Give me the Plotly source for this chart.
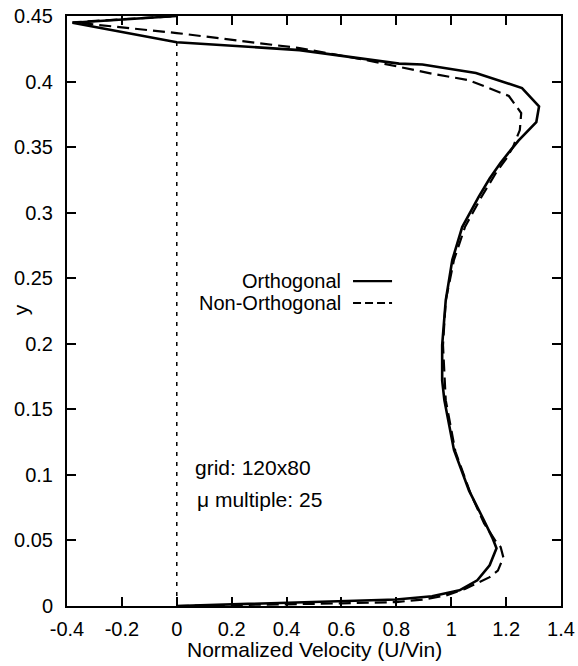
import plotly.graph_objects as go

# Velocity profiles across the channel (U/Vin versus y)
ortho_u = [0.0, 0.2, 0.4, 0.6, 0.8, 0.93, 1.03, 1.095, 1.14, 1.165, 1.15, 1.12,
           1.065, 1.01, 0.975, 0.967, 0.967, 0.98, 1.004, 1.04, 1.10, 1.14, 1.18,
           1.21, 1.245, 1.31, 1.32, 1.258, 1.09, 0.895, 0.81, 0.447, 0.2, 0.0,
           -0.38, 0.0]
ortho_y = [0.0, 0.0013, 0.0025, 0.0035, 0.005, 0.0075, 0.012, 0.0196, 0.031, 0.044,
           0.052, 0.065, 0.088, 0.119, 0.157, 0.172, 0.199, 0.233, 0.264, 0.289,
           0.312, 0.326, 0.338, 0.346, 0.355, 0.369, 0.381, 0.395, 0.4066, 0.413,
           0.4137, 0.424, 0.4275, 0.430, 0.4448, 0.45]

nonortho_u = [0.0, 0.2, 0.4, 0.6, 0.8, 0.9, 0.98, 1.05, 1.10, 1.14, 1.17, 1.19,
              1.18, 1.16, 1.12, 1.07, 1.015, 0.98, 0.97, 0.98, 1.01, 1.05, 1.11,
              1.165, 1.20, 1.225, 1.25, 1.255, 1.21, 1.065, 0.93, 0.7, 0.447, 0.2,
              0.0, -0.38, 0.0]
nonortho_y = [0.0, 0.0005, 0.001, 0.002, 0.003, 0.005, 0.008, 0.013, 0.018, 0.022,
              0.027, 0.037, 0.045, 0.050, 0.063, 0.086, 0.118, 0.157, 0.199, 0.233,
              0.264, 0.289, 0.312, 0.331, 0.341, 0.35, 0.363, 0.376, 0.389, 0.401,
              0.406, 0.416, 0.4255, 0.432, 0.437, 0.4452, 0.45]

x_ticks = [-0.4, -0.2, 0, 0.2, 0.4, 0.6, 0.8, 1, 1.2, 1.4]
y_ticks = [0, 0.05, 0.1, 0.15, 0.2, 0.25, 0.3, 0.35, 0.4, 0.45]

FONT = "Liberation Sans, Arial, Helvetica, sans-serif"
TICK_FS = 20
TEXT_FS = 21
KEY_FS = 20

fig = go.Figure()

# zero-velocity reference line
fig.add_trace(go.Scatter(x=[0, 0], y=[0, 0.43], mode="lines",
                         line=dict(color="black", width=1.5, dash="4px,6px"),
                         showlegend=False, hoverinfo="skip"))

fig.add_trace(go.Scatter(x=ortho_u, y=ortho_y, mode="lines", name="Orthogonal",
                         line=dict(color="black", width=2.6), showlegend=False))
fig.add_trace(go.Scatter(x=nonortho_u, y=nonortho_y, mode="lines", name="Non-Orthogonal",
                         line=dict(color="black", width=2.2, dash="12px,6px"),
                         showlegend=False))

axis_common = dict(
    showline=True, linecolor="black", linewidth=2, mirror="ticks",
    ticks="inside", ticklen=9, tickwidth=1.5, tickcolor="black",
    showgrid=False, zeroline=False, automargin=False,
    tickfont=dict(family=FONT, size=TICK_FS, color="black"),
)

fig.update_xaxes(range=[-0.4, 1.4], tickvals=x_ticks,
                 ticktext=[f"{v:g}" for v in x_ticks], ticklabelstandoff=4,
                 **axis_common)
fig.update_yaxes(range=[0, 0.45], tickvals=y_ticks,
                 ticktext=[f"{v:g}" for v in y_ticks], ticklabelstandoff=8,
                 **axis_common)

annotations = [
    dict(text="Normalized Velocity (U/Vin)", xref="paper", yref="paper",
         x=0.502, y=-0.073, showarrow=False, xanchor="center", yanchor="middle",
         font=dict(family=FONT, size=TEXT_FS, color="black")),
    dict(text="y", xref="paper", yref="paper", x=-0.095, y=0.5014, textangle=-90,
         showarrow=False, xanchor="center", yanchor="middle",
         font=dict(family=FONT, size=TEXT_FS, color="black")),
    dict(text="Orthogonal", xref="paper", yref="paper", x=0.559, y=0.5508,
         showarrow=False, xanchor="right", yanchor="middle",
         font=dict(family=FONT, size=KEY_FS, color="black")),
    dict(text="Non-Orthogonal", xref="paper", yref="paper", x=0.559, y=0.5136,
         showarrow=False, xanchor="right", yanchor="middle",
         font=dict(family=FONT, size=KEY_FS, color="black")),
    dict(text="grid: 120x80", xref="paper", yref="paper", x=0.255, y=0.234,
         showarrow=False, xanchor="left", yanchor="middle",
         font=dict(family=FONT, size=TEXT_FS, color="black")),
    dict(text="\u03bc multiple: 25", xref="paper", yref="paper", x=0.259, y=0.18,
         showarrow=False, xanchor="left", yanchor="middle",
         font=dict(family=FONT, size=TEXT_FS, color="black")),
]

# legend key samples
shapes = [
    dict(type="line", xref="paper", yref="paper", x0=0.579, x1=0.658, y0=0.5508, y1=0.5508,
         line=dict(color="black", width=2.2)),
    dict(type="line", xref="paper", yref="paper", x0=0.579, x1=0.658, y0=0.5136, y1=0.5136,
         line=dict(color="black", width=1.8, dash="8px,4px")),
]

fig.update_layout(
    width=578, height=666,
    margin=dict(l=67, r=17, t=16, b=60),
    paper_bgcolor="white", plot_bgcolor="white",
    annotations=annotations, shapes=shapes,
    showlegend=False,
)

fig.write_html("out.html")
